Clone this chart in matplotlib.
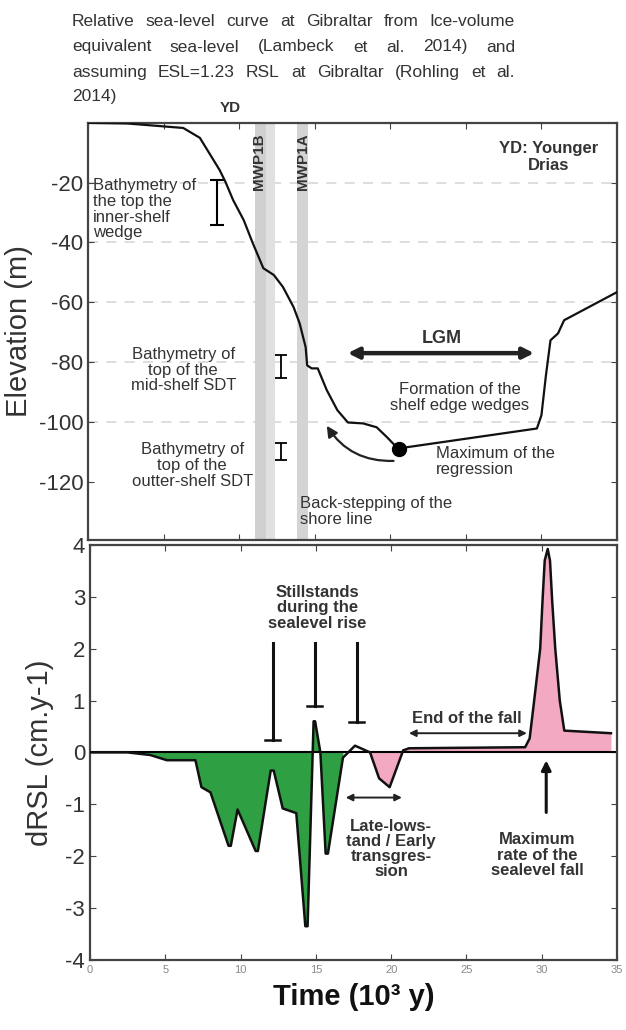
import matplotlib
matplotlib.use('Agg')
import matplotlib.pyplot as plt
import numpy as np

plt.rcParams['font.family'] = ['Liberation Sans', 'DejaVu Sans']
plt.rcParams['axes.unicode_minus'] = False

# relative sea-level curve (top panel)
rsl_time = [0, 2.6, 6.3, 7.4, 8.7, 9.1, 9.6, 10.3, 10.9, 11.6, 12.3, 12.9, 13.6, 14.0, 14.4, 14.5,
            14.8, 15.2, 15.8, 16.5, 17.2, 18.2, 19.1, 19.8, 20.5, 29.7, 30.0, 30.3, 30.6, 31.1,
            31.5, 35.0]
rsl_elev = [0, -0.2, -1.7, -5.0, -15.7, -19.8, -25.8, -32.5, -40.2, -48.6, -50.9, -54.9, -61.6,
            -67.0, -75.0, -81.1, -82.1, -82.1, -89.4, -96.1, -100.2, -100.5, -101.8, -105.2,
            -108.9, -102.2, -97.8, -84.4, -72.7, -70.4, -66.0, -56.6]

# rate of relative sea-level change (bottom panel)
d_time = [0, 2.5, 4.0, 5.1, 7.0, 7.4, 8.0, 9.2, 9.35, 9.8, 11.0, 11.15, 12.0, 12.2, 12.8,
          13.7, 14.3, 14.45, 14.85, 14.95, 15.3, 15.65, 15.8, 16.8, 17.6, 18.6, 19.2, 19.9,
          20.8, 21.2, 28.9, 29.2, 29.5, 29.9, 30.05, 30.2, 30.4, 30.55, 30.7, 30.9, 31.2,
          31.5, 34.6]
d_rate = [0, 0, -0.05, -0.15, -0.15, -0.67, -0.77, -1.8, -1.8, -1.1, -1.9, -1.9, -0.35,
          -0.35, -1.08, -1.17, -3.35, -3.35, 0.6, 0.6, 0, -1.95, -1.95, -0.1, 0.13, 0, -0.5,
          -0.67, 0.04, 0.08, 0.1, 0.27, 1.0, 2.0, 2.9, 3.7, 3.92, 3.7, 2.9, 2.0, 1.0, 0.42,
          0.37]

elev_ticks = [-120, -100, -80, -60, -40, -20]
rate_ticks = [-4, -3, -2, -1, 0, 1, 2, 3, 4]
time_ticks = [0, 5, 10, 15, 20, 25, 30, 35]

title_lines = ['Relative sea-level curve at Gibraltar from Ice-volume',
               'equivalent sea-level (Lambeck et al. 2014) and',
               'assuming  ESL=1.23 RSL at Gibraltar (Rohling et al.',
               '2014)']

TXT = '#333333'
SP = '#444444'

fig = plt.figure(figsize=(6.26, 10.30), dpi=100)
ax1 = fig.add_axes([0.1406, 0.4757, 0.845, 0.405])
ax2 = fig.add_axes([0.1438, 0.068, 0.8418, 0.403])

for ax in (ax1, ax2):
    for s in ax.spines.values():
        s.set_color(SP)
        s.set_linewidth(1.6)
    ax.set_xlim(0, 35)
    ax.set_xticks(time_ticks)
    ax.tick_params(axis='both', direction='in', top=True, right=True, color=SP,
                   labelsize=16, labelcolor=TXT, length=4)
    ax.tick_params(axis='x', labelsize=8, labelcolor='#888888')

# ---- top panel
ax1.set_ylim(-139.5, 0)
ax1.set_yticks(elev_ticks)
ax1.set_xticklabels([])
for v in [-20, -40, -60, -80, -100]:
    ax1.axhline(v, color='#d8d8d8', lw=1.2, ls=(0, (6, 5)), zorder=0)
ax1.axvspan(11.06, 12.38, color='#e0e0e0', lw=0, zorder=0.5)
ax1.axvspan(11.06, 11.75, color='#d0d0d0', lw=0, zorder=0.6)
ax1.axvspan(13.84, 14.57, color='#d4d4d4', lw=0, zorder=0.5)
ax1.plot(rsl_time, rsl_elev, color='#111111', lw=1.6, zorder=3)
ax1.plot(20.55, -109.2, 'o', color='black', ms=10, zorder=4)

ax1.text(11.3, -3.5, 'MWP1B', rotation=90, ha='center', va='top', fontsize=11,
         fontweight='bold', color=TXT)
ax1.text(14.25, -3.5, 'MWP1A', rotation=90, ha='center', va='top', fontsize=11,
         fontweight='bold', color=TXT)
ax1.text(30.5, -11.4, 'YD: Younger\nDrias', ha='center', va='center', fontsize=12,
         fontweight='bold', color=TXT, linespacing=1.1)
ax1.text(0.3, -18.6, 'Bathymetry of\nthe top the\ninner-shelf\nwedge', ha='left', va='top',
         fontsize=12, color=TXT, linespacing=1.05)
ax1.text(6.3, -82.7, 'Bathymetry of\ntop of the\nmid-shelf SDT', ha='center', va='center',
         fontsize=12, color=TXT, linespacing=1.05)
ax1.text(6.9, -114.6, 'Bathymetry of\ntop of the\noutter-shelf SDT', ha='center', va='center',
         fontsize=12, color=TXT, linespacing=1.05)
ax1.errorbar([8.54], [-26.6], yerr=[7.6], fmt='none', ecolor='black', elinewidth=1.5,
             capsize=5, capthick=1.5)
ax1.errorbar([12.8], [-81.5], yerr=[3.9], fmt='none', ecolor='black', elinewidth=1.3,
             capsize=4, capthick=1.3)
ax1.errorbar([12.8], [-109.9], yerr=[3.0], fmt='none', ecolor='black', elinewidth=1.3,
             capsize=4, capthick=1.3)

ax1.annotate('', xy=(17.0, -77), xytext=(29.7, -77),
             arrowprops=dict(arrowstyle='<|-|>', color='#222222', lw=3.2, mutation_scale=16))
ax1.text(23.4, -72, 'LGM', ha='center', va='center', fontsize=13, fontweight='bold', color=TXT)
ax1.text(24.6, -91.8, 'Formation of the\nshelf edge wedges', ha='center', va='center',
         fontsize=12, color=TXT, linespacing=1.05)
ax1.text(23.0, -113.2, 'Maximum of the\nregression', ha='left', va='center', fontsize=12,
         color=TXT, linespacing=1.05)
ax1.text(14.0, -130, 'Back-stepping of the\nshore line', ha='left', va='center', fontsize=12,
         color=TXT, linespacing=1.05)
ax1.annotate('', xy=(15.7, -100.5), xytext=(20.4, -113.0),
             arrowprops=dict(arrowstyle='-|>', color='#222222', lw=1.6, mutation_scale=16,
                             connectionstyle='arc3,rad=-0.3'))
ax1.set_ylabel('Elevation (m)', fontsize=21, color=TXT, labelpad=4)

# ---- bottom panel
ax2.set_ylim(-4, 4)
ax2.set_yticks(rate_ticks)
t = np.array(d_time)
r = np.array(d_rate)
ax2.fill_between(t, r, 0, where=t <= 16.8, color='#2ea043', lw=0, zorder=1)
ax2.fill_between(t, r, 0, where=t >= 18.6, color='#f4a9c2', lw=0, zorder=1)
ax2.axhline(0, color='black', lw=1.5, zorder=2)
ax2.plot(d_time, d_rate, color='#111111', lw=1.8, zorder=3)

ax2.text(15.1, 2.79, 'Stillstands\nduring the\nsealevel rise', ha='center', va='center',
         fontsize=12, fontweight='bold', color=TXT, linespacing=1.05)
for bx, bot in [(12.15, 0.23), (14.93, 0.9), (17.7, 0.58)]:
    ax2.plot([bx, bx], [2.1, bot], color='#111111', lw=2.2)
    ax2.plot([bx - 0.5, bx + 0.5], [bot, bot], color='#111111', lw=1.8)

ax2.text(25.0, 0.65, 'End of the fall', ha='center', va='center', fontsize=12,
         fontweight='bold', color=TXT)
ax2.annotate('', xy=(21.0, 0.37), xytext=(29.2, 0.37),
             arrowprops=dict(arrowstyle='<|-|>', color='#222222', lw=1.4, mutation_scale=10))
ax2.annotate('', xy=(16.8, -0.87), xytext=(20.9, -0.87),
             arrowprops=dict(arrowstyle='<|-|>', color='#222222', lw=1.4, mutation_scale=10))
ax2.text(20.0, -1.87, 'Late-lows-\ntand / Early\ntransgres-\nsion', ha='center', va='center',
         fontsize=12, fontweight='bold', color=TXT, linespacing=1.0)
ax2.annotate('', xy=(30.3, -0.1), xytext=(30.3, -1.21),
             arrowprops=dict(arrowstyle='-|>', color='#111111', lw=2.2, mutation_scale=14))
ax2.text(29.7, -1.98, 'Maximum\nrate of the\nsealevel fall', ha='center', va='center',
         fontsize=12, fontweight='bold', color=TXT, linespacing=1.05)

ax2.set_ylabel('dRSL (cm.y-1)', fontsize=21, color=TXT, labelpad=8)
ax2.set_xlabel('Time (10³ y)', fontsize=21, fontweight='bold', color='#111111', labelpad=6)

# justified title above the top panel
renderer = fig.canvas.get_renderer()
x0, x1 = 72 / 626, 515 / 626
for i, line in enumerate(title_lines):
    y = 1 - (22 + 25 * i) / 1030
    words = line.split()
    if i == len(title_lines) - 1 or len(words) < 2:
        fig.text(x0, y, line, fontsize=12.5, color=TXT, va='center', ha='left')
        continue
    widths = []
    for w in words:
        tt = fig.text(0, 0, w, fontsize=12.5)
        widths.append(tt.get_window_extent(renderer).width / fig.bbox.width)
        tt.remove()
    gap = (x1 - x0 - sum(widths)) / (len(words) - 1)
    xx = x0
    for w, wd in zip(words, widths):
        fig.text(xx, y, w, fontsize=12.5, color=TXT, va='center', ha='left')
        xx += wd + gap

fig.text(230 / 626, 1 - 108 / 1030, 'YD', fontsize=11, fontweight='bold', color=TXT,
         ha='center', va='center')

fig.savefig('out.png', dpi=100)
